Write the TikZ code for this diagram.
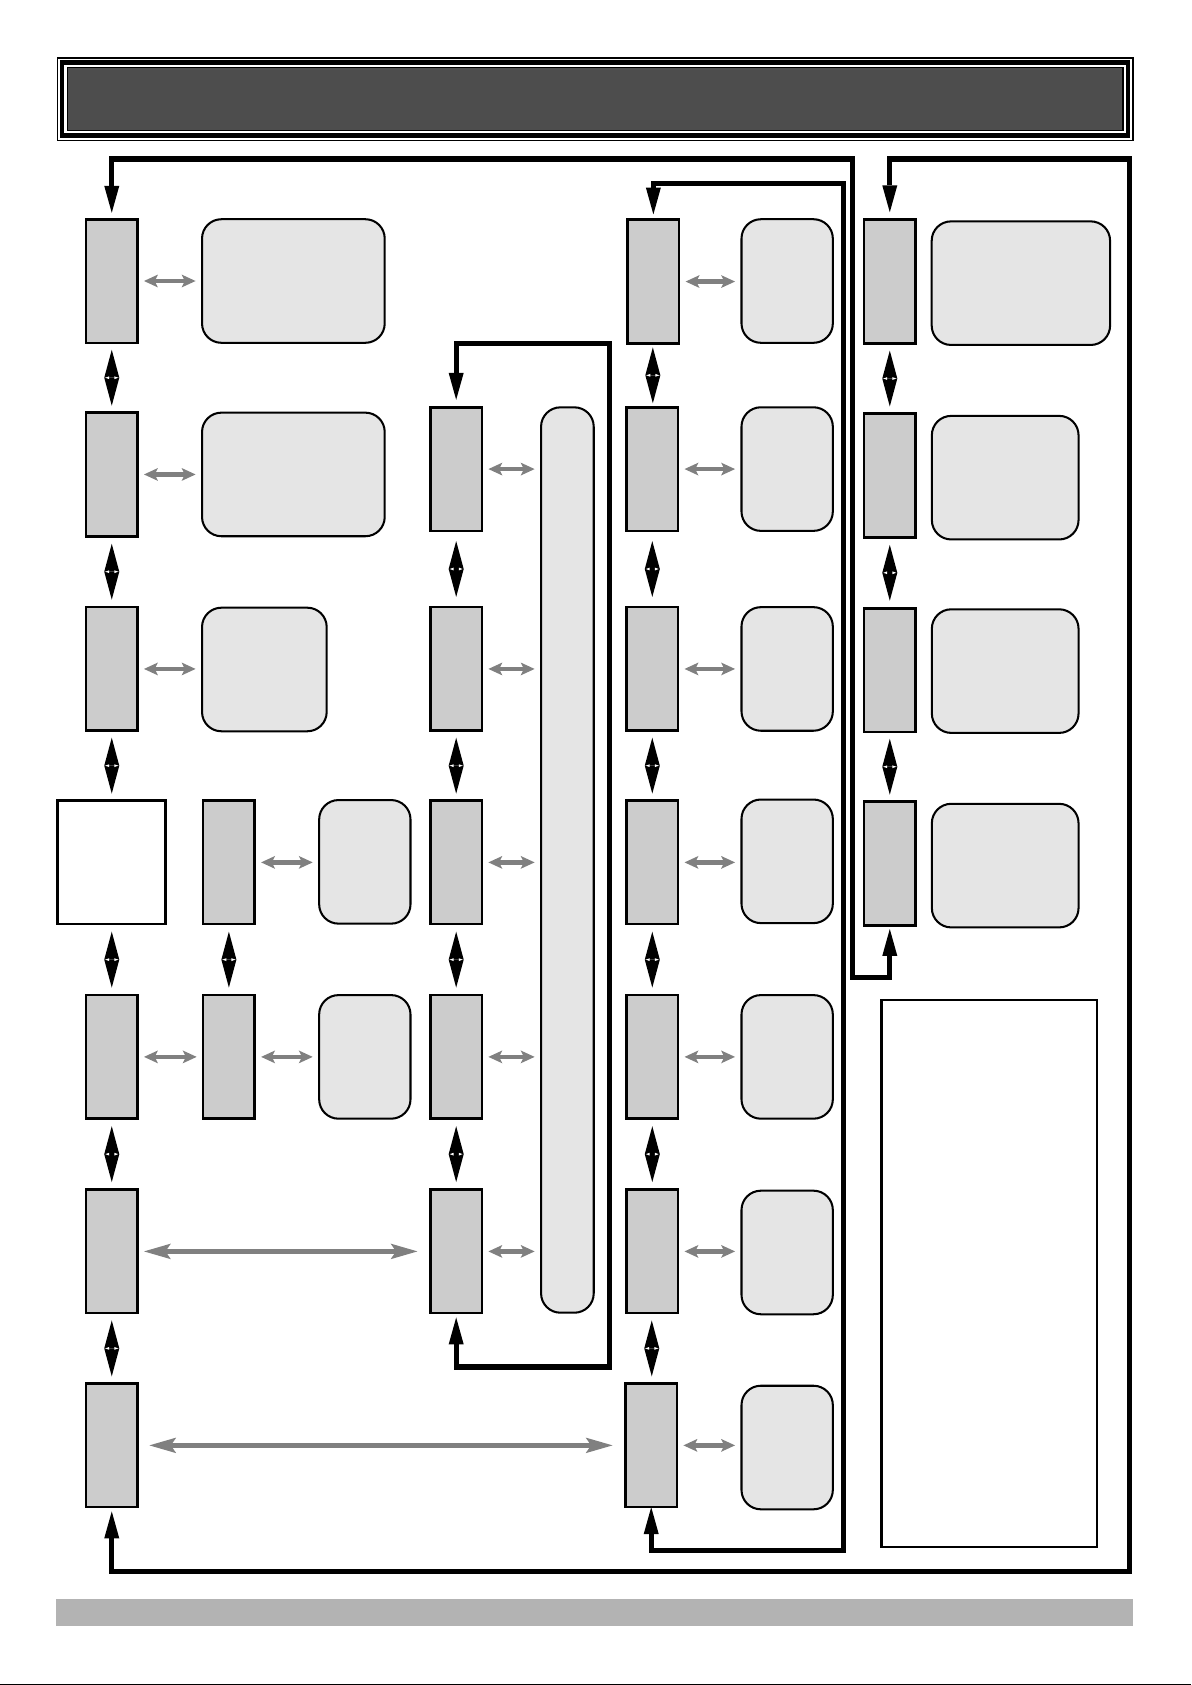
\documentclass[tikz,border=0pt]{standalone}
\usetikzlibrary{arrows.meta,decorations.markings,calc}
\definecolor{boxgray}{HTML}{CCCCCC}
\definecolor{lightfill}{HTML}{E5E5E5}
\definecolor{arrowgray}{HTML}{808080}
\definecolor{hdrfill}{HTML}{4D4D4D}
\definecolor{barfill}{HTML}{B3B3B3}
\tikzset{
  gbox/.style={draw=black, line width=2.4pt, fill=boxgray, minimum width=48pt, minimum height=115pt, inner sep=0pt, outer sep=0pt},
  wbox/.style={draw=black, line width=2.4pt, fill=white, minimum width=100.5pt, minimum height=115pt, inner sep=0pt, outer sep=0pt},
  lbox/.style={draw=black, line width=1.9pt, fill=lightfill, rounded corners=18pt, minimum height=115pt, inner sep=0pt, outer sep=0pt},
  notebox/.style={draw=black, line width=2pt, fill=white, minimum width=200.5pt, minimum height=508.7pt, inner sep=0pt, outer sep=0pt},
  blk/.style={line width=3pt, {Triangle[length=26pt,width=14pt,line width=0pt]}-{Triangle[length=26pt,width=14pt,line width=0pt]},
    postaction={decorate}, decoration={markings, mark=at position 0.5 with {
      \fill[white] (-1.3,2.4) -- (1.3,2.4) -- (0,6) -- cycle;
      \fill[white] (-1.3,-2.4) -- (1.3,-2.4) -- (0,-6) -- cycle;}}},
  garr/.style={draw=arrowgray, line width=4pt, {Stealth[length=13pt,width=12pt,inset=3pt,line width=0pt]}-{Stealth[length=13pt,width=12pt,inset=3pt,line width=0pt]}, shorten <=6pt, shorten >=6pt},
  glong/.style={draw=arrowgray, line width=5pt, {Stealth[length=25pt,width=14.5pt,inset=5pt,line width=0pt]}-{Stealth[length=25pt,width=14.5pt,inset=5pt,line width=0pt]}},
  loopline/.style={line width=4.8pt, {Triangle[length=25pt,width=14pt,line width=0pt]}-{Triangle[length=25pt,width=14pt,line width=0pt]}},
}
\newcommand\vlink[2]{\draw[blk] ($(#1.south)!0.5!(#2.north)+(0,-26)$) -- ($(#1.south)!0.5!(#2.north)+(0,26)$);}
\begin{document}
\begin{tikzpicture}[x=1pt,y=-1pt]
\useasboundingbox (0,0) rectangle (1108.3,1568);
% header
\draw[line width=1.2pt] (53.3,54) rectangle (1054.3,130.9);
\draw[line width=4.2pt] (57.9,58.4) rectangle (1049.7,126.3);
\draw[line width=1.2pt, fill=hdrfill] (62.6,63.1) rectangle (1045,121.6);
% bottom bar
\fill[barfill] (52,1487.5) rectangle (1054.5,1513);
\draw[line width=1pt] (0,1567.5) -- (1108.3,1567.5);

% column A
\node[gbox] (A1) at (104,261.5) {};
\node[gbox] (A2) at (104,441.5) {};
\node[gbox] (A3) at (104,622.5) {};
\node[wbox] (A4) at (104,802.5) {};
\node[gbox] (A5) at (104,983.5) {};
\node[gbox] (A6) at (104,1164.5) {};
\node[gbox] (A7) at (104,1345) {};
% light boxes next to A
\node[lbox, minimum width=170pt] (L1) at (273,261.5) {};
\node[lbox, minimum width=170pt] (L2) at (273,441.5) {};
\node[lbox, minimum width=116pt] (L3) at (246,623) {};
% column B
\node[gbox] (B4) at (213,802.5) {};
\node[gbox] (B5) at (213,983.5) {};
\node[lbox, minimum width=85pt] (L4) at (339.5,802) {};
\node[lbox, minimum width=85pt] (L5) at (339.5,983.5) {};
% column C
\node[gbox] (C1) at (424.5,436.5) {};
\node[gbox] (C2) at (424.5,622.5) {};
\node[gbox] (C3) at (424.5,802.5) {};
\node[gbox] (C4) at (424.5,983.5) {};
\node[gbox] (C5) at (424.5,1164.5) {};
\node[lbox, minimum width=49pt, minimum height=842.5pt] (P) at (528,800.3) {};
% column D
\node[gbox] (D1) at (608,262) {};
\node[gbox] (D2) at (607,436.5) {};
\node[gbox] (D3) at (607,622.5) {};
\node[gbox] (D4) at (607,802.5) {};
\node[gbox] (D5) at (607,983.5) {};
\node[gbox] (D6) at (607,1164.5) {};
\node[gbox] (D7) at (606,1345) {};
\node[lbox, minimum width=85pt] (E1) at (732.5,261.5) {};
\node[lbox, minimum width=85pt] (E2) at (732.5,436.5) {};
\node[lbox, minimum width=85pt] (E3) at (732.5,622.5) {};
\node[lbox, minimum width=85pt] (E4) at (732.5,801.5) {};
\node[lbox, minimum width=85pt] (E5) at (732.5,983.5) {};
\node[lbox, minimum width=85pt] (E6) at (732.5,1165.5) {};
\node[lbox, minimum width=85pt] (E7) at (732.5,1347) {};
% column F
\node[gbox] (F1) at (828,262) {};
\node[gbox] (F2) at (828,442.5) {};
\node[gbox] (F3) at (828,623.5) {};
\node[gbox] (F4) at (828,803.5) {};
\node[lbox, minimum width=166pt] (G1) at (950,263.5) {};
\node[lbox, minimum width=136.5pt] (G2) at (935.4,444.5) {};
\node[lbox, minimum width=136.5pt] (G3) at (935.4,624.5) {};
\node[lbox, minimum width=136.5pt] (G4) at (935.4,805.5) {};
% note box
\node[notebox] (W) at (920.5,1185) {};

% vertical black links
\vlink{A1}{A2}\vlink{A2}{A3}\vlink{A3}{A4}\vlink{A4}{A5}\vlink{A5}{A6}\vlink{A6}{A7}
\vlink{B4}{B5}
\vlink{C1}{C2}\vlink{C2}{C3}\vlink{C3}{C4}\vlink{C4}{C5}
\vlink{D1}{D2}\vlink{D2}{D3}\vlink{D3}{D4}\vlink{D4}{D5}\vlink{D5}{D6}\vlink{D6}{D7}
\vlink{F1}{F2}\vlink{F2}{F3}\vlink{F3}{F4}

% gray horizontal links
\draw[garr] (A1.east) -- (A1.east -| L1.west);
\draw[garr] (A2.east) -- (A2.east -| L2.west);
\draw[garr] (A3.east) -- (A3.east -| L3.west);
\draw[garr] (B4.east) -- (B4.east -| L4.west);
\draw[garr] (A5.east) -- (A5.east -| B5.west);
\draw[garr] (B5.east) -- (B5.east -| L5.west);
\foreach \c in {C1,C2,C3,C4,C5} {\draw[garr] (\c.east) -- (\c.east -| P.west);}
\foreach \d/\e in {D1/E1,D2/E2,D3/E3,D4/E4,D5/E5,D6/E6,D7/E7} {\draw[garr] (\d.east) -- (\d.east -| \e.west);}
\draw[glong, shorten <=6pt, shorten >=12pt] (A6.east) -- (A6.east -| C5.west);
\draw[glong, shorten <=11pt, shorten >=12pt] (A7.east) -- (A7.east -| D7.west);

% black loops
\draw[loopline, shorten <=6pt, shorten >=3.5pt] (A1.north) |- (793,148) -- (793,910) -| (F4.south);
\draw[loopline, shorten <=4pt, shorten >=7pt] (A7.south) |- (1051,1462) -- (1051,148) -| (F1.north);
\draw[loopline, shorten <=4pt, shorten >=7pt] (C5.south) |- (567,1272) -- (567,320) -| (C1.north);
\draw[loopline, shorten <=0pt, shorten >=5pt] (D7.south) |- (785,1443) -- (785,171) -| (D1.north);
\end{tikzpicture}
\end{document}
